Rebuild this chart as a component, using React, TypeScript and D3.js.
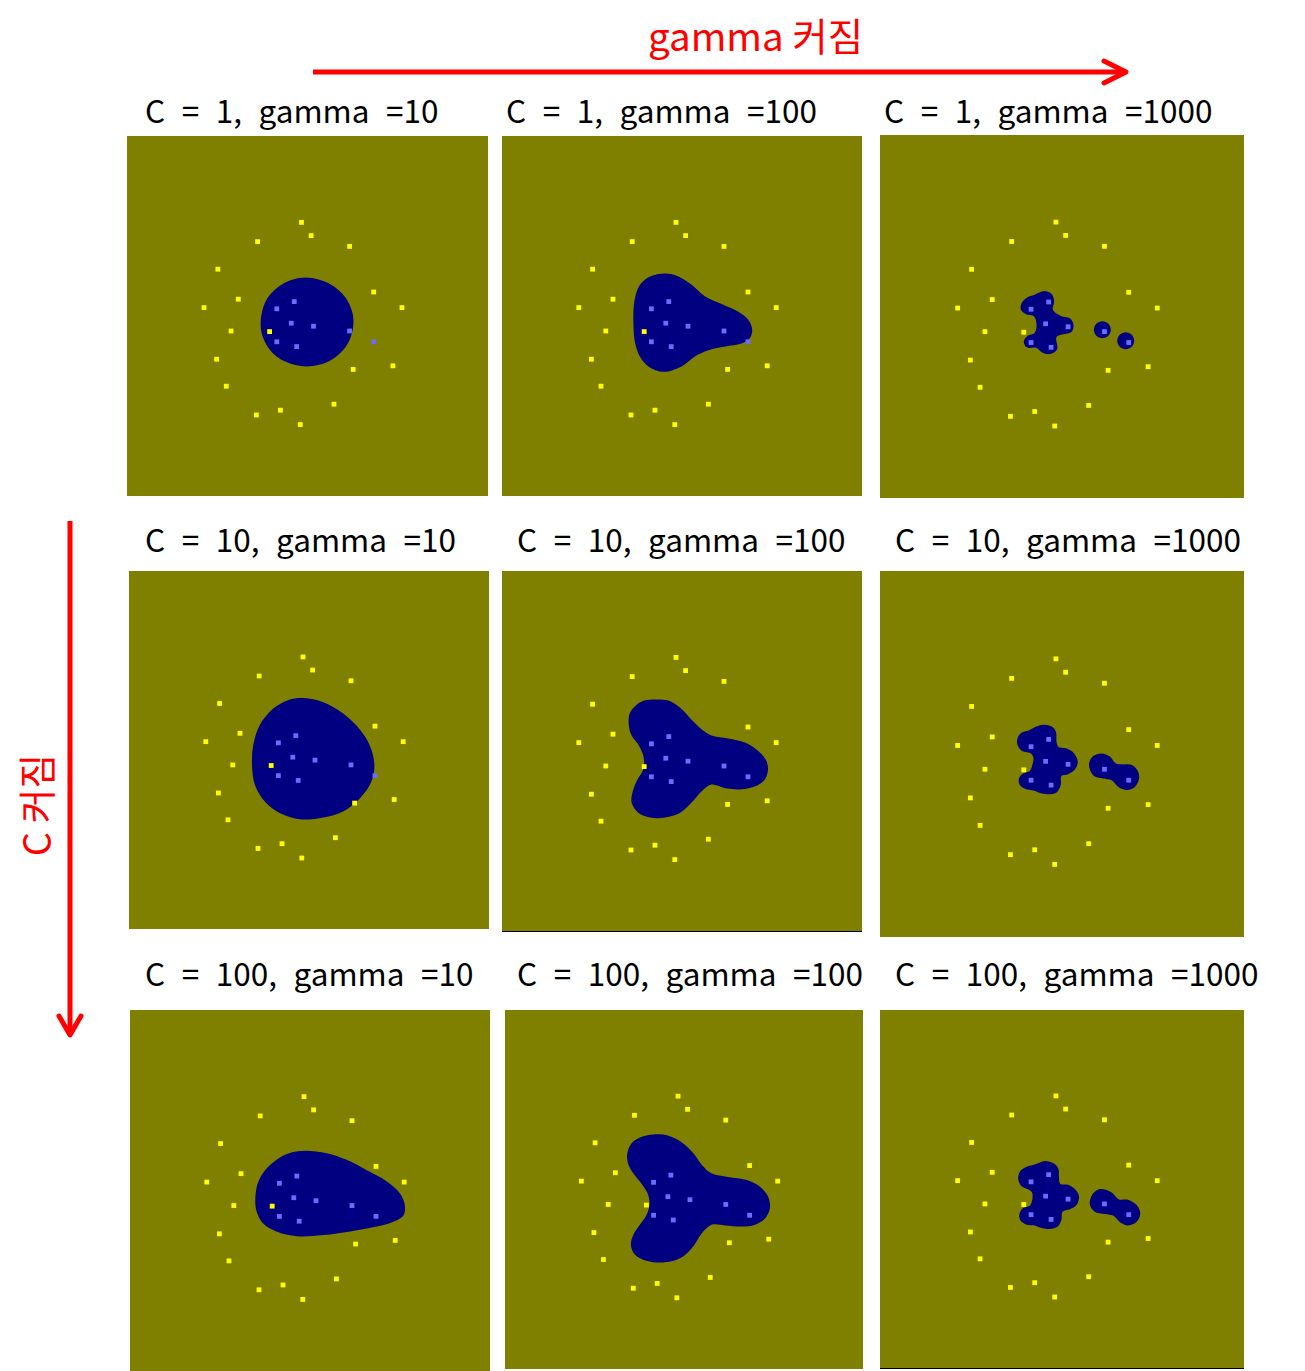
import React from 'react';
import * as d3 from 'd3';

// ---- data ----
const cValues = [1, 10, 100];
const gammaValues = [10, 100, 1000];

// class outside (yellow) samples
const outsideX = [-0.10, 0.06, -0.83, 0.70, -1.49, 1.10, -1.15, -1.72, 1.57, -1.27, -0.63, -1.51, 0.76, 1.42, -1.35, 0.44, -0.45, -0.85, -0.12];
const outsideY = [1.56, 1.34, 1.24, 1.16, 0.78, 0.40, 0.28, 0.14, 0.14, -0.25, -0.26, -0.72, -0.89, -0.83, -1.17, -1.47, -1.57, -1.65, -1.81];
// class inside (blue) samples
const insideX = [-0.22, -0.51, -0.27, 0.10, 0.70, -0.51, -0.18, 1.10];
const insideY = [0.24, 0.12, -0.12, -0.17, -0.25, -0.43, -0.51, -0.43];

// decision-region outlines, one list of polygons per panel
const boundaryC1G10 = [[
  [-0.03, 0.64], [0.38, 0.53], [0.63, 0.31], [0.75, 0.04], [0.75, -0.24], [0.63, -0.52], [0.38, -0.74],
  [-0.01, -0.84], [-0.37, -0.76], [-0.62, -0.57], [-0.76, -0.29], [-0.77, -0.01], [-0.67, 0.29], [-0.42, 0.53],
]];
const boundaryC1G100 = [[
  [-0.28, 0.71], [-0.06, 0.66], [0.16, 0.52], [0.38, 0.33], [0.66, 0.20], [0.94, 0.07], [1.11, -0.07],
  [1.17, -0.23], [1.13, -0.37], [0.99, -0.46], [0.72, -0.51], [0.44, -0.57], [0.22, -0.67], [-0.01, -0.84],
  [-0.31, -0.93], [-0.56, -0.84], [-0.70, -0.68], [-0.78, -0.46], [-0.81, -0.12], [-0.79, 0.27], [-0.70, 0.52],
  [-0.53, 0.66],
]];
const boundaryC1G1000 = [
  [
    [-0.29, 0.42], [-0.17, 0.37], [-0.13, 0.25], [-0.15, 0.11], [-0.02, 0.01], [0.13, -0.03], [0.19, -0.14],
    [0.16, -0.25], [0.04, -0.29], [-0.09, -0.34], [-0.08, -0.54], [-0.20, -0.62], [-0.32, -0.60], [-0.42, -0.52],
    [-0.58, -0.51], [-0.63, -0.42], [-0.58, -0.33], [-0.45, -0.27], [-0.42, -0.14], [-0.46, 0.00], [-0.60, 0.04],
    [-0.68, 0.12], [-0.66, 0.23], [-0.58, 0.31], [-0.45, 0.36],
  ],
  [
    [0.805, -0.22], [0.764, -0.121], [0.665, -0.08], [0.566, -0.121], [0.525, -0.22], [0.566, -0.319],
    [0.665, -0.36], [0.764, -0.319],
  ],
  [
    [1.19, -0.40], [1.149, -0.301], [1.05, -0.26], [0.951, -0.301], [0.91, -0.40], [0.951, -0.499],
    [1.05, -0.54], [1.149, -0.499],
  ],
];
const boundaryC10G10 = [[
  [-0.09, 0.87], [0.24, 0.80], [0.57, 0.61], [0.85, 0.34], [1.02, 0.06], [1.09, -0.25], [1.04, -0.53],
  [0.85, -0.81], [0.57, -1.03], [0.24, -1.13], [-0.15, -1.16], [-0.48, -1.06], [-0.73, -0.87], [-0.90, -0.59],
  [-0.95, -0.25], [-0.93, 0.08], [-0.82, 0.42], [-0.59, 0.70], [-0.34, 0.84],
]];
const boundaryC10G100 = [[
  [-0.45, 0.86], [-0.23, 0.84], [-0.03, 0.72], [0.16, 0.52], [0.33, 0.36], [0.49, 0.26], [0.77, 0.21],
  [1.05, 0.14], [1.27, 0.00], [1.41, -0.17], [1.43, -0.34], [1.36, -0.50], [1.16, -0.61], [0.94, -0.64],
  [0.72, -0.62], [0.49, -0.56], [0.33, -0.67], [0.16, -0.86], [-0.03, -1.03], [-0.28, -1.11], [-0.53, -1.11],
  [-0.73, -1.03], [-0.84, -0.86], [-0.82, -0.67], [-0.74, -0.47], [-0.66, -0.34], [-0.63, -0.20], [-0.65, -0.06],
  [-0.73, 0.11], [-0.85, 0.28], [-0.89, 0.47], [-0.87, 0.63], [-0.77, 0.76], [-0.63, 0.84],
]];
const boundaryC10G1000 = [
  [
    [-0.31, 0.48], [-0.17, 0.45], [-0.10, 0.36], [-0.09, 0.20], [-0.06, 0.12], [0.08, 0.09], [0.20, 0.01],
    [0.26, -0.13], [0.21, -0.26], [0.10, -0.33], [-0.01, -0.36], [-0.02, -0.51], [-0.09, -0.63], [-0.23, -0.66],
    [-0.36, -0.64], [-0.47, -0.60], [-0.61, -0.57], [-0.70, -0.50], [-0.71, -0.40], [-0.64, -0.32], [-0.53, -0.28],
    [-0.49, -0.18], [-0.47, -0.07], [-0.51, 0.01], [-0.64, 0.04], [-0.72, 0.12], [-0.74, 0.23], [-0.68, 0.34],
    [-0.54, 0.39], [-0.42, 0.45],
  ],
  [
    [0.65, 0.01], [0.79, -0.04], [0.88, -0.15], [0.98, -0.17], [1.15, -0.18], [1.25, -0.28], [1.27, -0.40],
    [1.20, -0.54], [1.07, -0.59], [0.93, -0.54], [0.82, -0.43], [0.68, -0.40], [0.54, -0.37], [0.46, -0.26],
    [0.45, -0.14], [0.52, -0.03],
  ],
];
const boundaryC100G10 = [[
  [-0.08, 0.66], [0.28, 0.62], [0.61, 0.51], [0.94, 0.34], [1.28, 0.15], [1.50, -0.05], [1.58, -0.24],
  [1.56, -0.41], [1.39, -0.52], [1.11, -0.60], [0.67, -0.68], [0.22, -0.74], [-0.22, -0.76], [-0.56, -0.68],
  [-0.78, -0.55], [-0.89, -0.35], [-0.91, -0.10], [-0.86, 0.15], [-0.72, 0.37], [-0.50, 0.55], [-0.31, 0.63],
]];
const boundaryC100G100 = [[
  [-0.51, 0.92], [-0.26, 0.90], [-0.04, 0.79], [0.16, 0.60], [0.30, 0.41], [0.46, 0.27], [0.74, 0.21],
  [1.05, 0.16], [1.27, 0.05], [1.41, -0.12], [1.44, -0.31], [1.36, -0.48], [1.19, -0.59], [0.97, -0.62],
  [0.69, -0.60], [0.46, -0.59], [0.30, -0.73], [0.13, -0.98], [-0.07, -1.15], [-0.35, -1.22], [-0.63, -1.19],
  [-0.82, -1.09], [-0.89, -0.93], [-0.85, -0.76], [-0.74, -0.59], [-0.63, -0.43], [-0.58, -0.26], [-0.60, -0.09],
  [-0.70, 0.08], [-0.85, 0.27], [-0.94, 0.44], [-0.95, 0.60], [-0.88, 0.77], [-0.71, 0.88],
]];
const boundaryC100G1000 = [
  [
    [-0.28, 0.47], [-0.14, 0.43], [-0.06, 0.34], [-0.05, 0.21], [-0.03, 0.09], [0.10, 0.07], [0.23, -0.02],
    [0.28, -0.13], [0.24, -0.27], [0.13, -0.34], [0.01, -0.38], [-0.01, -0.52], [-0.07, -0.63], [-0.20, -0.67],
    [-0.35, -0.65], [-0.45, -0.61], [-0.58, -0.60], [-0.69, -0.52], [-0.70, -0.41], [-0.64, -0.32], [-0.53, -0.28],
    [-0.49, -0.18], [-0.49, -0.07], [-0.53, -0.02], [-0.66, 0.04], [-0.72, 0.15], [-0.70, 0.28], [-0.61, 0.36],
    [-0.45, 0.41],
  ],
  [
    [0.65, 0.00], [0.82, -0.06], [0.93, -0.17], [1.09, -0.18], [1.23, -0.27], [1.29, -0.41], [1.23, -0.55],
    [1.09, -0.61], [0.96, -0.56], [0.85, -0.45], [0.71, -0.42], [0.54, -0.38], [0.46, -0.27], [0.48, -0.13],
    [0.56, -0.03],
  ],
];

const boundaries = [
  [boundaryC1G10, boundaryC1G100, boundaryC1G1000],
  [boundaryC10G10, boundaryC10G100, boundaryC10G1000],
  [boundaryC100G10, boundaryC100G100, boundaryC100G1000],
];

const topLabel = 'gamma 커짐';
const sideLabel = 'C 커짐';

// ---- layout ----
const W = 1305;
const H = 1371;
const panelRects = [
  [[127, 136, 361, 360], [502, 136, 360, 360], [880, 135, 364, 363]],
  [[129, 571, 360, 358], [502, 571, 360, 360], [880, 571, 364, 366]],
  [[130, 1010, 360, 361], [505, 1010, 358, 359], [880, 1010, 364, 358]],
];
const titlePos = [
  [[145, 123], [506, 123], [884, 123]],
  [[145, 552], [517, 552], [895, 552]],
  [[145, 986], [517, 986], [895, 986]],
];
const bottomRule = [
  [false, false, false],
  [false, true, false],
  [false, false, true],
];

const OLIVE = '#808000';
const NAVY = '#000080';
const YELLOW = '#ffff00';
const PERI = '#6b6bff';
const RED = '#ff0000';
const FONT = "'Noto Sans CJK KR', 'Noto Sans', sans-serif";

function Panel({ ri, ci }: { ri: number; ci: number }) {
  const [x0, y0, w, h] = panelRects[ri][ci];
  const xs = d3.scaleLinear().domain([-3, 3]).range([x0, x0 + w]);
  const ys = d3.scaleLinear().domain([-3, 3]).range([y0 + h, y0]);
  const line = d3
    .line<number[]>()
    .x((d) => xs(d[0]))
    .y((d) => ys(d[1]))
    .curve(d3.curveCatmullRomClosed.alpha(0.5));
  const s = 4.8;
  const [tx, ty] = titlePos[ri][ci];
  return (
    <g>
      <rect x={x0} y={y0} width={w} height={h} fill={OLIVE} />
      {boundaries[ri][ci].map((poly, i) => (
        <path key={i} d={line(poly) || ''} fill={NAVY} />
      ))}
      {outsideX.map((vx, i) => (
        <rect key={'o' + i} x={xs(vx) - s / 2} y={ys(outsideY[i]) - s / 2} width={s} height={s} fill={YELLOW} />
      ))}
      {insideX.map((vx, i) => (
        <rect key={'i' + i} x={xs(vx) - s / 2} y={ys(insideY[i]) - s / 2} width={s} height={s} fill={PERI} />
      ))}
      {bottomRule[ri][ci] && (
        <line x1={x0} x2={x0 + w} y1={y0 + h + 0.5} y2={y0 + h + 0.5} stroke="#000" strokeWidth={1} />
      )}
      <text
        x={tx}
        y={ty}
        fontFamily={FONT}
        fontSize={31.5}
        fill="#000"
        style={{ wordSpacing: '9.5px' }}
      >
        {`C = ${cValues[ri]}, gamma =${gammaValues[ci]}`}
      </text>
    </g>
  );
}

export default function App() {
  return (
    <svg
      width={W}
      height={H}
      viewBox={`0 0 ${W} ${H}`}
      style={{ position: 'absolute', left: 0, top: 0, background: '#fff' }}
    >
      <rect x={0} y={0} width={W} height={H} fill="#fff" />
      {/* top arrow */}
      <text x={648} y={51} fontFamily={FONT} fontSize={38.5} fill={RED}>
        {topLabel}
      </text>
      <line x1={313} x2={1124} y1={72} y2={72} stroke={RED} strokeWidth={5} />
      <polyline
        points="1104,61 1126,72 1104,83"
        fill="none"
        stroke={RED}
        strokeWidth={5}
        strokeLinecap="round"
        strokeLinejoin="round"
      />
      {/* left arrow */}
      <line x1={70} x2={70} y1={521} y2={1034} stroke={RED} strokeWidth={5} />
      <polyline
        points="59,1016 70,1035 81,1016"
        fill="none"
        stroke={RED}
        strokeWidth={5}
        strokeLinecap="round"
        strokeLinejoin="round"
      />
      <text
        x={0}
        y={0}
        transform="translate(51,805) rotate(-90)"
        textAnchor="middle"
        fontFamily={FONT}
        fontSize={38}
        fill={RED}
      >
        {sideLabel}
      </text>
      {panelRects.map((row, ri) =>
        row.map((_, ci) => <Panel key={`${ri}-${ci}`} ri={ri} ci={ci} />)
      )}
    </svg>
  );
}
